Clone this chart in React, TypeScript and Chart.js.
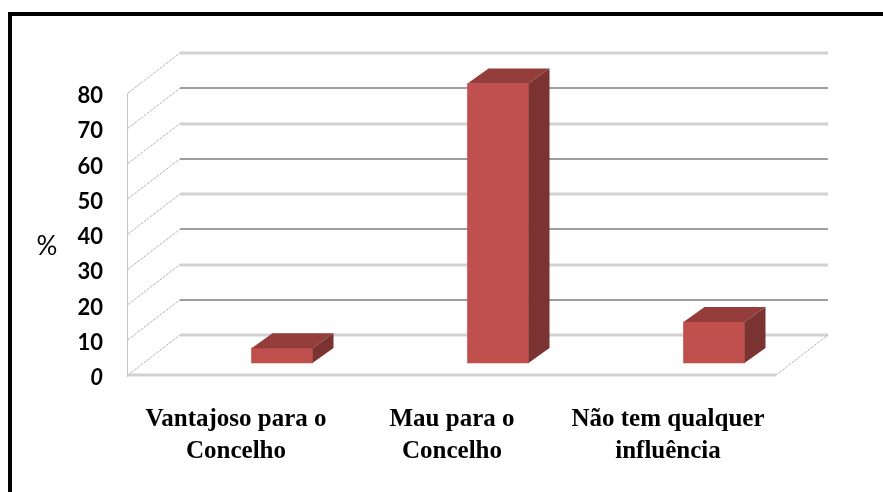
import React, { useEffect, useRef } from 'react';
import { Chart, registerables } from 'chart.js';

Chart.register(...registerables);

const categories: string[][] = [
  ['Vantajoso para o', 'Concelho'],
  ['Mau para o', 'Concelho'],
  ['Não tem qualquer', 'influência'],
];
const values: number[] = [4.2, 79.3, 11.6];
const yMin = 0;
const yMax = 80;
const yStep = 10;
const yTitle = '%';

const DEPTH_X = 52;
const DEPTH_Y = -40;
const BAR_SHIFT_X = 46;
const BAR_SHIFT_Y = -12;
const BAR_DX = 21;
const BAR_DY = -15;

const threeD = {
  id: 'threeD',
  beforeDraw(chart: any) {
    const ctx = chart.ctx;
    const { left, right, top, bottom } = chart.chartArea;
    const y = chart.scales.y;
    ctx.save();
    // frame
    ctx.fillStyle = '#000';
    ctx.fillRect(8, 12, 900, 4);
    ctx.fillRect(8, 12, 4, 500);

    // back wall gridlines
    for (let v = yMin; v <= yMax; v += yStep) {
      const yb = Math.round(y.getPixelForValue(v) + DEPTH_Y);
      const k = Math.round((yMax - v) / yStep);
      const dark = k % 2 === 1;
      ctx.strokeStyle = dark ? '#9E9E9E' : '#D2D2D2';
      ctx.lineWidth = dark ? 2 : 3;
      ctx.beginPath();
      ctx.moveTo(left + DEPTH_X, yb);
      ctx.lineTo(right + DEPTH_X, yb);
      ctx.stroke();
    }
    // left wall diagonals
    ctx.setLineDash([3, 1]);
    ctx.strokeStyle = '#B4B4B4';
    ctx.lineWidth = 1;
    for (let v = yMin; v <= yMax; v += yStep) {
      const yf = y.getPixelForValue(v);
      ctx.beginPath();
      ctx.moveTo(left, yf);
      ctx.lineTo(left + DEPTH_X, yf + DEPTH_Y);
      ctx.stroke();
    }
    // right floor diagonal
    ctx.beginPath();
    ctx.moveTo(right, bottom);
    ctx.lineTo(right + DEPTH_X, bottom + DEPTH_Y);
    ctx.stroke();
    ctx.setLineDash([]);
    // left vertical edge
    ctx.strokeStyle = '#C8C8C8';
    ctx.lineWidth = 1;
    ctx.beginPath();
    ctx.moveTo(left - 0.5, top);
    ctx.lineTo(left - 0.5, bottom + 2);
    ctx.stroke();
    // front floor edge
    ctx.strokeStyle = '#D2D2D2';
    ctx.lineWidth = 3;
    ctx.beginPath();
    ctx.moveTo(left, bottom);
    ctx.lineTo(right, bottom);
    ctx.stroke();

    // y title
    ctx.fillStyle = '#000';
    ctx.font = '26px Lato';
    ctx.textAlign = 'center';
    ctx.textBaseline = 'middle';
    ctx.fillText(yTitle, 47, 247);
    ctx.restore();
  },
  beforeDatasetsDraw(chart: any) {
    chart.ctx.save();
    chart.ctx.translate(BAR_SHIFT_X, BAR_SHIFT_Y);
  },
  afterDatasetsDraw(chart: any) {
    const ctx = chart.ctx;
    const meta = chart.getDatasetMeta(0);
    meta.data.forEach((bar: any) => {
      const { x, y, base, width } = bar.getProps(['x', 'y', 'base', 'width'], true);
      const l = x - width / 2;
      const r = x + width / 2;
      ctx.fillStyle = '#943D3B';
      ctx.beginPath();
      ctx.moveTo(l, y);
      ctx.lineTo(l + BAR_DX, y + BAR_DY);
      ctx.lineTo(r + BAR_DX, y + BAR_DY);
      ctx.lineTo(r, y);
      ctx.closePath();
      ctx.fill();
      ctx.fillStyle = '#7B3331';
      ctx.beginPath();
      ctx.moveTo(r, y);
      ctx.lineTo(r + BAR_DX, y + BAR_DY);
      ctx.lineTo(r + BAR_DX, base + BAR_DY);
      ctx.lineTo(r, base);
      ctx.closePath();
      ctx.fill();
    });
    ctx.restore();
  },
};

export default function App() {
  const ref = useRef<HTMLCanvasElement>(null);
  useEffect(() => {
    if (!ref.current) return;
    const chart = new Chart(ref.current, {
      type: 'bar',
      data: {
        labels: categories,
        datasets: [
          {
            data: values,
            backgroundColor: '#C0504D',
            borderWidth: 0,
            barThickness: 61,
            clip: false as any,
          },
        ],
      },
      options: {
        responsive: false,
        animation: false,
        layout: { padding: { left: 0, top: 93, right: 107, bottom: 0 } },
        plugins: { legend: { display: false }, tooltip: { enabled: false } },
        scales: {
          x: {
            grid: { display: false },
            border: { display: false },
            ticks: {
              color: '#000',
              padding: 20,
              maxRotation: 0,
              autoSkip: false,
              font: { family: 'Liberation Serif', weight: 'bold', size: 25, lineHeight: 1.3 },
            },
            afterFit: (s: any) => { s.height = 117; },
          },
          y: {
            min: yMin,
            max: yMax,
            grid: { display: false, drawTicks: false },
            border: { display: false },
            ticks: {
              stepSize: yStep,
              padding: 25,
              labelOffset: 3,
              color: '#000',
              font: (c: any) => ({
                family: 'Lato',
                weight: 'bold',
                size: 22,
                style: c.tick && c.tick.value === 0 ? 'italic' : 'normal',
              }),
            },
            afterFit: (s: any) => { s.width = 128; },
          },
        },
      },
      plugins: [threeD],
    });
    return () => chart.destroy();
  }, []);
  return (
    <div style={{ position: 'absolute', left: 0, top: 0 }}>
      <canvas ref={ref} width={883} height={492} style={{ display: 'block' }} />
    </div>
  );
}
